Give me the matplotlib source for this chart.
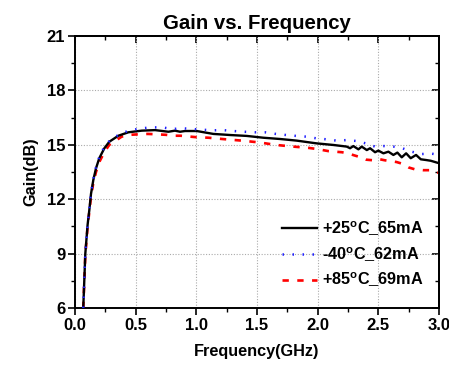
import matplotlib
matplotlib.use("Agg")
import matplotlib.pyplot as plt
from matplotlib.ticker import MultipleLocator

plt.rcParams['font.family'] = ['Liberation Sans', 'DejaVu Sans']
plt.rcParams['font.weight'] = 'bold'
plt.rcParams['mathtext.fontset'] = 'custom'
plt.rcParams['mathtext.rm'] = 'Liberation Sans:bold'
plt.rcParams['mathtext.bf'] = 'Liberation Sans:bold'

labels = ["+25$^{\\mathrm{o}}$C_65mA", "-40$^{\\mathrm{o}}$C_62mA", "+85$^{\\mathrm{o}}$C_69mA"]

f_25 = [0.068, 0.085, 0.104, 0.118, 0.132, 0.151, 0.173, 0.2, 0.242, 0.283, 0.357, 0.44,
        0.55, 0.66, 0.77, 0.824, 0.866, 0.907, 1.003, 1.14, 1.278, 1.415, 1.552, 1.69, 1.828,
        1.924, 1.99, 2.13, 2.24, 2.267, 2.294, 2.336, 2.363, 2.405, 2.432, 2.473, 2.5, 2.542,
        2.583, 2.624, 2.657, 2.693, 2.729, 2.767, 2.811, 2.85, 2.894, 2.932, 2.987, 3.0]
g_25 = [6.0, 9.0, 10.6, 11.4, 12.3, 13.06, 13.7, 14.26, 14.81, 15.17, 15.5, 15.69,
        15.78, 15.81, 15.72, 15.78, 15.72, 15.76, 15.76, 15.6, 15.54, 15.49, 15.39, 15.32, 15.23,
        15.14, 15.08, 14.99, 14.9, 14.81, 14.93, 14.75, 14.90, 14.71, 14.81, 14.59, 14.68, 14.53,
        14.62, 14.44, 14.57, 14.31, 14.53, 14.26, 14.44, 14.20, 14.16, 14.12, 14.01, 13.99]

f_m40 = [0.068, 0.085, 0.104, 0.118, 0.132, 0.151, 0.173, 0.2, 0.242, 0.29, 0.379, 0.462,
         0.55, 0.632, 0.72, 0.80, 0.885, 0.97, 1.053, 1.135, 1.223, 1.305, 1.393, 1.484, 1.566,
         1.655, 1.74, 1.822, 1.904, 1.986, 2.075, 2.157, 2.24, 2.32, 2.396, 2.473, 2.547, 2.624,
         2.698, 2.776, 2.852, 2.94, 3.0]
g_m40 = [6.0, 9.0, 10.6, 11.45, 12.35, 13.1, 13.75, 14.32, 14.9, 15.26, 15.63, 15.81,
         15.91, 15.96, 15.96, 15.87, 15.91, 15.87, 15.83, 15.80, 15.81, 15.76, 15.72, 15.69, 15.69,
         15.6, 15.54, 15.49, 15.45, 15.36, 15.30, 15.23, 15.26, 15.21, 15.08, 14.90, 14.93, 14.90,
         14.81, 14.62, 14.49, 14.51, 14.45]

f_85 = [0.068, 0.085, 0.104, 0.118, 0.132, 0.151, 0.173, 0.2, 0.242, 0.283, 0.385, 0.45,
        0.53, 0.6, 0.67, 0.75, 0.81, 0.87, 0.95, 1.0, 1.1, 1.23, 1.375, 1.52, 1.66, 1.8, 1.925,
        2.0, 2.09, 2.2, 2.25, 2.3, 2.36, 2.4, 2.45, 2.5, 2.55, 2.6, 2.65, 2.7, 2.75, 2.8, 2.87,
        2.92, 2.97, 3.0]
g_85 = [6.0, 8.9, 10.5, 11.3, 12.15, 12.9, 13.5, 14.05, 14.6, 15.0, 15.45, 15.55,
        15.58, 15.6, 15.58, 15.55, 15.5, 15.5, 15.45, 15.42, 15.39, 15.31, 15.23, 15.13, 14.99,
        14.9, 14.83, 14.76, 14.65, 14.59, 14.53, 14.42, 14.3, 14.18, 14.15, 14.22, 14.15, 14.1,
        14.05, 13.95, 13.75, 13.65, 13.6, 13.6, 13.5, 13.45]

x_ticks = [0.0, 0.5, 1.0, 1.5, 2.0, 2.5, 3.0]
y_ticks = [6, 9, 12, 15, 18, 21]

fig = plt.figure(figsize=(4.49, 3.66), dpi=100)
ax = fig.add_axes([75/449, 1-308/366, (439-75)/449, (308-36)/366])

ax.plot(f_25, g_25, color='black', lw=1.7, label=labels[0], zorder=3)
ax.plot(f_m40, g_m40, color='#2020ff', lw=1.8, linestyle=(0, (0.6, 3.4)),
        dash_capstyle='butt', label=labels[1], zorder=4)
ax.plot(f_85, g_85, color='#ff0000', lw=1.9, linestyle=(0, (2.4, 3.2)),
        label=labels[2], zorder=2)

ax.set_xlim(0, 3.0)
ax.set_ylim(6, 21)
ax.set_xticks(x_ticks)
ax.set_yticks(y_ticks)
ax.xaxis.set_minor_locator(MultipleLocator(0.25))
ax.yaxis.set_minor_locator(MultipleLocator(1.5))
ax.grid(True, which='major', color='#aaaaaa', linestyle=(0, (1, 1.5)), lw=0.8)

for s in ax.spines.values():
    s.set_linewidth(1.4)

ax.tick_params(axis='both', which='major', direction='out', length=5, width=1.2,
               labelsize=12, top=False, right=False, pad=2)
ax.tick_params(axis='both', which='minor', direction='out', length=3, width=1.0,
               top=False, right=False)
for lab in ax.get_xticklabels() + ax.get_yticklabels():
    lab.set_fontweight('bold')

secx = ax.secondary_xaxis('top')
secx.set_xticks(x_ticks)
secx.xaxis.set_minor_locator(MultipleLocator(0.25))
secx.tick_params(which='major', direction='in', length=5, width=1.2, labeltop=False)
secx.tick_params(which='minor', direction='in', length=3, width=1.0)
secx.spines['top'].set_linewidth(1.4)
secy = ax.secondary_yaxis('right')
secy.set_yticks(y_ticks)
secy.yaxis.set_minor_locator(MultipleLocator(1.5))
secy.tick_params(which='major', direction='in', length=5, width=1.2, labelright=False)
secy.tick_params(which='minor', direction='in', length=3, width=1.0)
secy.spines['right'].set_linewidth(1.4)

ax.set_title('Gain vs. Frequency', fontsize=14.7, fontweight='bold', pad=5)
ax.set_xlabel('Frequency(GHz)', fontsize=11.7, fontweight='bold', labelpad=8)
ax.set_ylabel('Gain(dB)', fontsize=11.7, fontweight='bold', labelpad=6)

leg = ax.legend(loc='upper left', bbox_to_anchor=(0.55, 0.35), frameon=False,
                fontsize=11.7, handlelength=2.2, handletextpad=0.3, labelspacing=0.45,
                borderaxespad=0)

fig.savefig('out.png', dpi=100)
